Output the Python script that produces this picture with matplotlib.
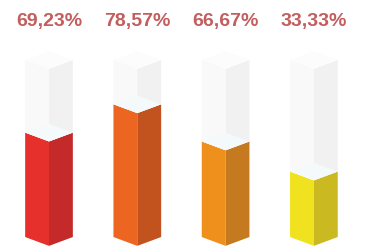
import matplotlib.pyplot as plt
from matplotlib.patches import Polygon

# values shown on the labels
values = [69.23, 78.57, 66.67, 33.33]
labels = ['69,23%', '78,57%', '66,67%', '33,33%']
# fill level of each tube (percent of tube height)
levels = [59, 75, 54, 37]
light = ['#e5302c', '#ec6621', '#ef901c', '#f1e21f']
dark = ['#c42a2a', '#c2521e', '#c57a20', '#cbb922']

w = 0.27   # half width of a tube (x units)
d = 5.0    # isometric drop of the front edge (y units)

fig = plt.figure(figsize=(3.66, 2.48), dpi=100)
ax = fig.add_axes([0, 0, 1, 1])
ax.set_xlim(-0.555, 3.59)
ax.set_ylim(-6.2, 133.9)
ax.axis('off')

for i, lvl in enumerate(levels):
    x = i
    # coloured part
    ax.add_patch(Polygon([(x - w, 0), (x, -d), (x, lvl - d), (x - w, lvl)],
                         closed=True, fc=light[i], ec='none'))
    ax.add_patch(Polygon([(x, -d), (x + w, 0), (x + w, lvl), (x, lvl - d)],
                         closed=True, fc=dark[i], ec='none'))
    # empty part of the tube
    ax.add_patch(Polygon([(x - w, lvl), (x, lvl - d), (x, 100 - d), (x - w, 100)],
                         closed=True, fc='#f9f9f9', ec='none'))
    ax.add_patch(Polygon([(x, lvl - d), (x + w, lvl), (x + w, 100), (x, 100 - d)],
                         closed=True, fc='#f1f1f1', ec='none'))
    # liquid surface
    ax.add_patch(Polygon([(x - w, lvl), (x, lvl - d), (x + w, lvl), (x, lvl + d)],
                         closed=True, fc='#f4f9fb', ec='none'))
    # top cap
    ax.add_patch(Polygon([(x - w, 100), (x, 100 - d), (x + w, 100), (x, 100 + d)],
                         closed=True, fc='#fcfcfc', ec='none'))
    ax.text(x, 122, labels[i], ha='center', va='center', fontsize=14,
            fontweight='bold', color='#c25e5e', family='Liberation Sans')

fig.savefig('out.png', dpi=100)
